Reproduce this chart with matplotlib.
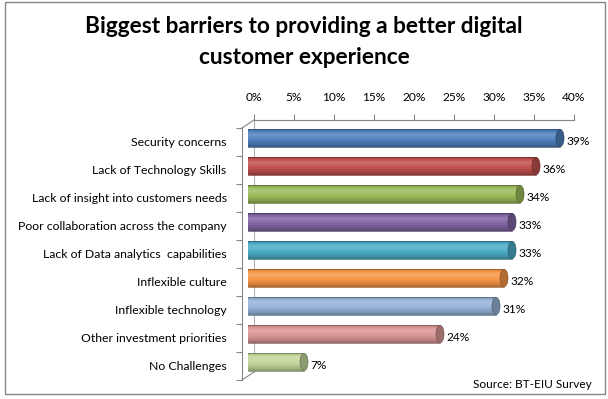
import numpy as np
import matplotlib
matplotlib.use("Agg")
import matplotlib.pyplot as plt
from matplotlib.patches import Ellipse, Rectangle
from matplotlib.lines import Line2D
from matplotlib.colors import to_rgb

categories = ["Security concerns", "Lack of Technology Skills",
              "Lack of insight into customers needs",
              "Poor collaboration across the company",
              "Lack of Data analytics  capabilities", "Inflexible culture",
              "Inflexible technology", "Other investment priorities",
              "No Challenges"]
values = [39, 36, 34, 33, 33, 32, 31, 24, 7]
colors = ["#4F81BD", "#C0504D", "#9BBB59", "#8064A2", "#4BACC6",
          "#F79646", "#95B3D7", "#D99694", "#C3D69B"]
xticks = [0, 5, 10, 15, 20, 25, 30, 35, 40]
xticklabels = ["0%", "5%", "10%", "15%", "20%", "25%", "30%", "35%", "40%"]
title = "Biggest barriers to providing a better digital\ncustomer experience"
source = "Source: BT-EIU Survey"

W, H = 608, 399
fig = plt.figure(figsize=(W / 100, H / 100), dpi=100)
fig.patch.set_facecolor("white")
FONT = "Lato"
GRID = "#868686"

def ax_at(left, top, width, height):
    return fig.add_axes([left / W, 1 - (top + height) / H, width / W, height / H])

n = len(categories)
PW, PH = 320, 252  # plot width (40%) and height in pixels
ymin, ymax = n - 0.5, -0.5

# back plane: x axis with tick labels
axb = ax_at(254, 120, PW, PH)
axb.set_xlim(0, 40)
axb.set_ylim(ymin, ymax)
axb.patch.set_visible(False)
for s in ["right", "bottom"]:
    axb.spines[s].set_visible(False)
axb.spines["top"].set_color(GRID)
axb.spines["left"].set_color("#B0B0B0")
axb.spines["top"].set_linewidth(0.8)
axb.spines["left"].set_linewidth(0.8)
axb.xaxis.set_ticks_position("top")
axb.set_xticks(xticks)
axb.set_xticklabels(xticklabels, fontsize=8.6, family=FONT, color="black")
axb.tick_params(axis="x", direction="out", length=4, width=0.8, color=GRID, pad=8)
axb.set_yticks([])

# front plane: category labels and left axis
axf = ax_at(242, 128, PW, PH)
axf.set_xlim(0, 40)
axf.set_ylim(ymin, ymax)
axf.patch.set_visible(False)
for s in ["right", "bottom", "top"]:
    axf.spines[s].set_visible(False)
axf.spines["left"].set_color(GRID)
axf.spines["left"].set_linewidth(0.8)
axf.set_xticks([])
axf.set_yticks(range(n))
axf.set_yticklabels(categories, fontsize=8.8, family=FONT, color="black")
axf.set_yticks(np.arange(-0.5, n, 1.0), minor=True)
axf.tick_params(axis="y", which="major", length=0, pad=11)
axf.tick_params(axis="y", which="minor", length=4, width=0.8, color=GRID)

# 3D frame diagonals
for yy in (128, 380):
    fig.add_artist(Line2D([242 / W, 254 / W], [1 - yy / H, 1 - (yy - 8) / H],
                          color=GRID, lw=0.8))

# middle plane: bars
axm = ax_at(248, 124, PW, PH)
axm.set_xlim(0, 40)
axm.set_ylim(ymin, ymax)
axm.axis("off")

bh = 0.62
prof = np.linspace(0, 1, 40)
shade = np.interp(prof, [0, 0.12, 0.3, 0.55, 0.85, 1.0],
                  [0.75, 1.0, 1.18, 1.03, 0.85, 0.7])
for i, (v, c) in enumerate(zip(values, colors)):
    base = np.array(to_rgb(c))
    img = np.zeros((len(prof), 1, 3))
    for j, s in enumerate(shade):
        if s >= 1:
            img[j, 0] = base + (1 - base) * (s - 1)
        else:
            img[j, 0] = base * s
    # left cap
    axm.add_patch(Ellipse((0, i), 0.75, bh, facecolor=base * 0.85,
                          edgecolor=base * 0.6, lw=0.5, zorder=1))
    bars = axm.barh(i, v, height=bh, color=c, edgecolor="none", zorder=2)
    rect = bars[0]
    axm.imshow(img, extent=[0, v, i + bh / 2, i - bh / 2], aspect="auto",
               zorder=2.5, clip_path=rect, interpolation="bilinear")
    axm.plot([0, v], [i - bh / 2, i - bh / 2], color=base * 0.6, lw=0.5, zorder=3)
    axm.plot([0, v], [i + bh / 2, i + bh / 2], color=base * 0.6, lw=0.5, zorder=3)
    axm.add_patch(Ellipse((v, i), 1.0, bh, facecolor=base * 0.72,
                          edgecolor=base * 0.55, lw=0.5, zorder=4))
    axm.text(v + 0.75, i + 0.12, f"{v}%", fontsize=8.6, family=FONT,
             va="center", ha="left", zorder=5)

axm.set_xlim(0, 40)
axm.set_ylim(ymin, ymax)

fig.text(0.5, 1 - 42 / H, title, ha="center", va="center", fontsize=16.3,
         fontweight="bold", family=FONT, linespacing=1.6)
fig.text(592 / W, 1 - 384 / H, source, ha="right", va="center", fontsize=8.6,
         family=FONT)

fig.add_artist(Rectangle((5 / W, 1 - 394 / H), 600 / W, 392 / H,
                         transform=fig.transFigure, fill=False,
                         edgecolor=GRID, lw=1))

fig.savefig("out.png", dpi=100)
